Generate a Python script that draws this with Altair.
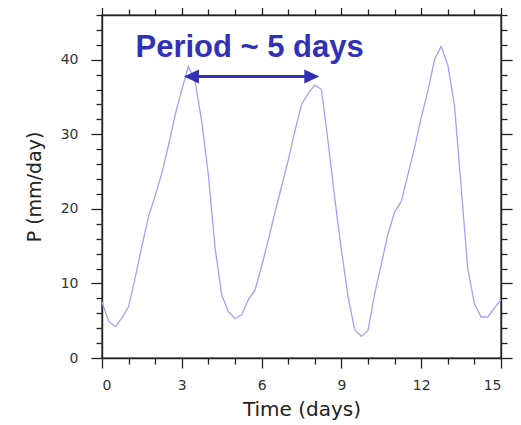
import altair as alt
import pandas as pd

# time axis, 6-hourly samples over 15 days
time_days = [0.0, 0.25, 0.5, 0.75, 1.0, 1.25, 1.5, 1.75, 2.0, 2.25, 2.5, 2.75,
             3.0, 3.25, 3.5, 3.75, 4.0, 4.25, 4.5, 4.75, 5.0, 5.25, 5.5, 5.75,
             6.0, 6.25, 6.5, 6.75, 7.0, 7.25, 7.5, 7.75, 8.0, 8.25, 8.5, 8.75,
             9.0, 9.25, 9.5, 9.75, 10.0, 10.25, 10.5, 10.75, 11.0, 11.25, 11.5, 11.75,
             12.0, 12.25, 12.5, 12.75, 13.0, 13.25, 13.5, 13.75, 14.0, 14.25, 14.5, 14.75,
             15.0]

# precipitation (mm/day)
precip = [7.5, 4.9, 4.2, 5.4, 6.9, 10.8, 15.0, 19.0, 21.8, 24.8, 28.5, 32.6,
          36.0, 39.1, 37.1, 31.7, 24.5, 14.8, 8.5, 6.2, 5.3, 5.8, 7.8, 9.1,
          12.3, 15.8, 19.5, 23.0, 26.5, 30.4, 34.0, 35.5, 36.6, 36.0, 29.0, 21.4,
          14.5, 8.2, 3.8, 2.9, 3.7, 8.6, 12.6, 16.6, 19.6, 21.0, 24.6, 28.2,
          32.2, 35.8, 40.0, 41.8, 39.3, 33.9, 23.0, 12.0, 7.3, 5.5, 5.5, 6.7,
          7.8]

# axis ticks
x_ticks = list(range(0, 16))
y_ticks = list(range(0, 47, 2))

# annotation: double arrow between two peaks
arrow_tips = [3.08, 8.17]
arrow_shaft = [3.45, 7.8]
arrow_level = 37.75
note_text = "Period ~ 5 days"
note_t = 5.55
note_p = 40.4

df = pd.DataFrame({"t": time_days, "p": precip})
shaft_df = pd.DataFrame({"t": [arrow_shaft[0]], "t2": [arrow_shaft[1]], "p": [arrow_level]})
heads_df = pd.DataFrame({"t": arrow_tips, "p": [arrow_level] * 2, "side": ["left", "right"]})
note_df = pd.DataFrame({"t": [note_t], "p": [note_p], "label": [note_text]})

ink = "#3131b5"
xscale = alt.Scale(domain=[0, 15], nice=False, zero=False)
yscale = alt.Scale(domain=[0, 46], nice=False)

# long ticks on labelled values, short ones in between
major_x = {"condition": {"test": "datum.value % 3 === 0", "value": 10}, "value": 6}
major_y = {"condition": {"test": "datum.value % 10 === 0", "value": 11}, "value": 6}

line = alt.Chart(df).mark_line(color="#a0a0ff", strokeWidth=1.3).encode(
    x=alt.X("t:Q", scale=xscale,
            axis=alt.Axis(values=x_ticks, title="Time (days)", grid=False,
                          labelExpr="datum.value % 3 === 0 ? datum.label : ''",
                          tickSize=major_x, labelPadding=10, titlePadding=7)),
    y=alt.Y("p:Q", scale=yscale,
            axis=alt.Axis(values=y_ticks, title="P (mm/day)", grid=False,
                          labelExpr="datum.value % 10 === 0 ? datum.label : ''",
                          tickSize=major_y, labelPadding=13, titlePadding=16))
)

# same data again, only to carry the top and right tick axes
frame = alt.Chart(df).mark_line(opacity=0).encode(
    x=alt.X("t:Q", scale=xscale,
            axis=alt.Axis(values=x_ticks, orient="top", labels=False, title=None,
                          grid=False, tickSize=major_x)),
    y=alt.Y("p:Q", scale=yscale,
            axis=alt.Axis(values=y_ticks, orient="right", labels=False, title=None,
                          grid=False, tickSize=major_y))
)

shaft = alt.Chart(shaft_df).mark_rule(color=ink, strokeWidth=3).encode(
    x=alt.X("t:Q", axis=None), x2="t2:Q", y=alt.Y("p:Q", axis=None)
)

heads = alt.Chart(heads_df).mark_point(filled=True, opacity=1, color=ink, size=900).encode(
    x=alt.X("t:Q", axis=None), y=alt.Y("p:Q", axis=None),
    shape=alt.Shape("side:N", legend=None,
                    scale=alt.Scale(domain=["left", "right"],
                                    range=["M0,0L1,-0.47L1,0.47Z", "M0,0L-1,-0.47L-1,0.47Z"]))
)

note = alt.Chart(note_df).mark_text(font="Liberation Sans", fontWeight="bold", fontSize=31,
                                    color=ink, align="center", baseline="alphabetic").encode(
    x=alt.X("t:Q", axis=None), y=alt.Y("p:Q", axis=None), text="label:N"
)

chart = alt.layer(line, frame, shaft, heads, note).resolve_axis(
    x="independent", y="independent"
).properties(
    width=399, height=343,
    autosize=alt.AutoSizeParams(type="none"),
    padding={"left": 94, "top": 7, "right": 12, "bottom": 66},
).configure_axis(
    labelFont="DejaVu Sans", labelFontSize=14, labelColor="#333333",
    titleFont="DejaVu Sans", titleFontWeight="normal", titleColor="#222222",
    domainColor="#222222", domainWidth=1.4, tickColor="#222222", tickWidth=1.3,
).configure_axisX(titleFontSize=20).configure_axisY(titleFontSize=19).configure_view(
    stroke="#222222", strokeWidth=1.4
)

chart.save("out.html", embed_options={"renderer": "svg", "actions": False})
